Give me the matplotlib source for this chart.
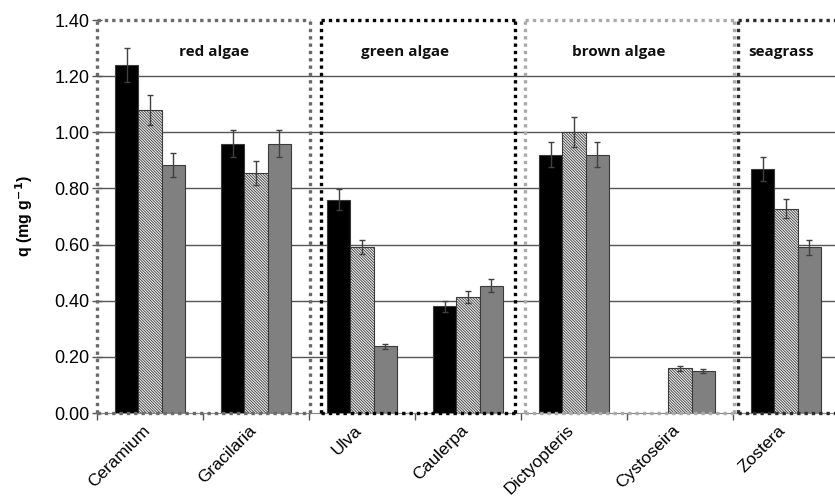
import matplotlib
matplotlib.use("Agg")
import matplotlib.pyplot as plt
import matplotlib.transforms as mtransforms
import numpy as np

categories = ["Ceramium", "Gracilaria", "Ulva", "Caulerpa", "Dictyopteris", "Cystoseira", "Zostera"]
series1 = [1.24, 0.96, 0.76, 0.38, 0.92, 0.0, 0.87]       # black
series2 = [1.08, 0.855, 0.59, 0.413, 1.00, 0.159, 0.728]  # hatched
series3 = [0.883, 0.96, 0.237, 0.454, 0.92, 0.151, 0.59]  # grey
err1 = [0.062, 0.049, 0.038, 0.019, 0.045, 0.0, 0.042]
err2 = [0.053, 0.044, 0.025, 0.020, 0.053, 0.008, 0.035]
err3 = [0.044, 0.049, 0.010, 0.023, 0.045, 0.007, 0.027]
group_names = ["red algae", "green algae", "brown algae", "seagrass"]
group_spans = [(-0.5, 1.51), (1.61, 3.44), (3.54, 5.51), (5.55, 6.8)]
group_label_x = [0.60, 2.41, 4.42, 5.95]
group_colors = ["#6a6a6a", "#000000", "#aaaaaa", "#2e2e2e"]
yticks = [0.0, 0.2, 0.4, 0.6, 0.8, 1.0, 1.2, 1.4]

plt.rcParams["hatch.linewidth"] = 0.6

fig = plt.figure(figsize=(8.35, 5.03), dpi=100)
ax = fig.add_axes([97/835, 90/503, 742/835, 393/503])

x = np.arange(len(categories))
w = 0.217
edge = "#3a3a3a"
styles = [dict(color="#000000", hatch=None),
          dict(color="#f0f0f0", hatch="\\" * 12),
          dict(color="#808080", hatch=None)]
for k, (vals, errs) in enumerate([(series1, err1), (series2, err2), (series3, err3)]):
    vals = np.array(vals); errs = np.array(errs)
    m = vals > 0
    xs = x[m] + (k - 1) * w
    ax.bar(xs, vals[m], width=w, color=styles[k]["color"], edgecolor=edge,
           linewidth=0.8, hatch=styles[k]["hatch"], zorder=3)
    ax.errorbar(xs, vals[m], yerr=errs[m], fmt="none", ecolor="#404040",
                elinewidth=1.0, capsize=2.5, capthick=1.0, zorder=4)

for yv in yticks[1:-1]:
    ax.axhline(yv, color="#555555", lw=1.0, zorder=1)

ax.set_xlim(-0.5, 6.5)
ax.set_ylim(0, 1.4)
ax.set_yticks(yticks)
ax.set_yticklabels([f"{v:.2f}" for v in yticks], fontsize=13, family="Liberation Sans")
ax.tick_params(axis="y", direction="inout", length=7, width=1, color="#555555", pad=2)

ax.set_xticks(np.arange(-0.5, 7.0, 1.0))
ax.set_xticklabels([])
ax.tick_params(axis="x", which="major", direction="out", length=5, width=1, color="#555555")
ax.set_xticks(x, minor=True)
ax.set_xticklabels(categories, minor=True, rotation=45, ha="right",
                   rotation_mode="anchor", fontsize=12.5, family="Liberation Sans")
ax.tick_params(axis="x", which="minor", length=0, pad=7)
off = mtransforms.ScaledTranslation(-8/100, 0, fig.dpi_scale_trans)
for lab in ax.get_xticklabels(minor=True):
    lab.set_transform(lab.get_transform() + off)

for s in ["top", "right", "left"]:
    ax.spines[s].set_visible(False)
ax.spines["bottom"].set_color("#888888")
ax.spines["bottom"].set_linewidth(0.8)

for (x0, x1), c in zip(group_spans, group_colors):
    kw = dict(color=c, lw=2.4, linestyle=(0, (1, 1.2)), solid_capstyle="butt",
              dash_capstyle="butt", clip_on=False, zorder=5)
    ax.plot([x0, x1], [1.4, 1.4], **kw)
    ax.plot([x0, x1], [0, 0], **kw)
    ax.plot([x0, x0], [0, 1.4], **kw)
    if x1 < 6.5:
        ax.plot([x1, x1], [0, 1.4], **kw)

for name, gx in zip(group_names, group_label_x):
    ax.text(gx, 1.286, name, ha="center", va="center", fontsize=11,
            fontweight="bold", family="Open Sans", color="#111111", zorder=6)

fig.text(24/835, 1 - 216/503, "q (mg g$^{\\mathbf{-1}}$)", rotation=90, ha="center",
         va="center", fontsize=11.5, fontweight="bold", family="Liberation Sans")

fig.savefig("out.png", dpi=100)
